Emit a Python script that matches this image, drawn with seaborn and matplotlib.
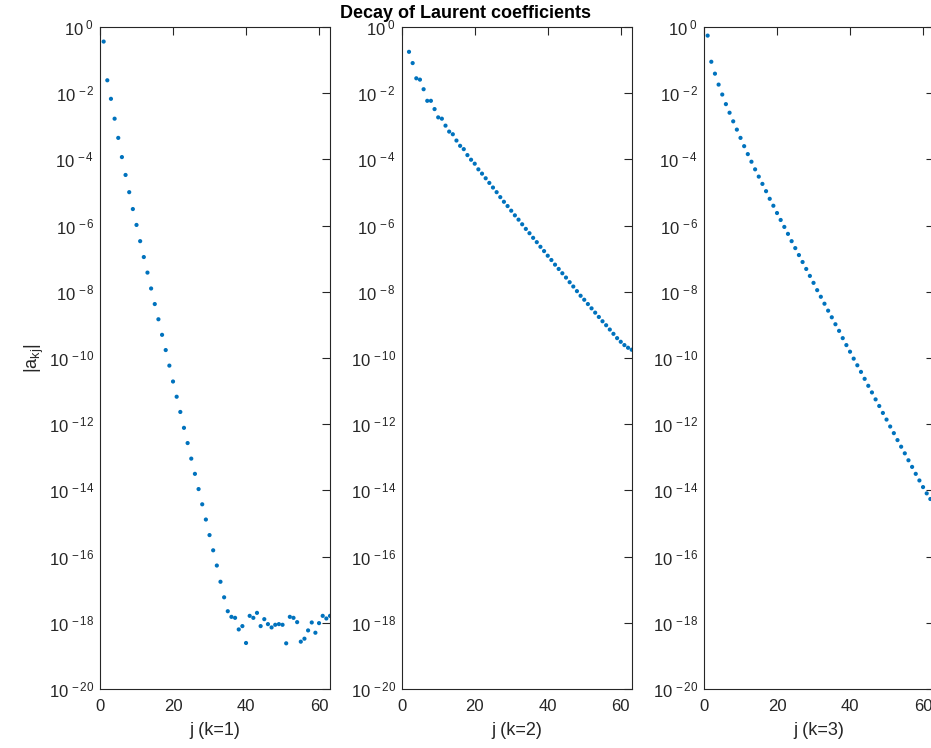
import numpy as np
import pandas as pd
import matplotlib
matplotlib.use("Agg")
import matplotlib.pyplot as plt
import matplotlib.ticker as mticker
import seaborn as sns

# ---- data (log10 of |a_kj|) ----
j1 = list(range(1, 64))
log_a1 = [-0.44, -1.61, -2.17, -2.77, -3.35, -3.93, -4.47, -4.99, -5.50, -5.98,
          -6.47, -6.95, -7.42, -7.90, -8.37, -8.83, -9.30, -9.76, -10.23, -10.71,
          -11.17, -11.63, -12.11, -12.57, -13.04, -13.50, -13.96, -14.42, -14.88, -15.35,
          -15.81, -16.27, -16.76, -17.23, -17.65, -17.82, -17.85, -18.20, -18.10, -18.61,
          -17.79, -17.85, -17.70, -18.10, -17.89, -18.04, -18.14, -18.06, -18.04, -18.06,
          -18.62, -17.82, -17.85, -17.98, -18.57, -18.48, -18.23, -17.99, -18.30, -18.01,
          -17.79, -17.87, -17.79]

j2 = list(range(2, 64))
log_a2 = [-0.75, -1.09, -1.55, -1.59, -1.88, -2.23, -2.23, -2.48, -2.73, -2.77,
          -2.98, -3.16, -3.24, -3.43, -3.59, -3.69, -3.87, -4.01, -4.13, -4.30,
          -4.43, -4.57, -4.71, -4.85, -4.99, -5.14, -5.28, -5.41, -5.55, -5.69,
          -5.82, -5.96, -6.10, -6.23, -6.37, -6.50, -6.64, -6.77, -6.91, -7.04,
          -7.18, -7.31, -7.44, -7.57, -7.71, -7.84, -7.98, -8.12, -8.24, -8.37,
          -8.50, -8.63, -8.76, -8.89, -9.01, -9.14, -9.27, -9.40, -9.51, -9.61,
          -9.69, -9.75]

j3 = list(range(1, 63))
log_a3 = [-0.26, -1.05, -1.41, -1.74, -2.04, -2.33, -2.59, -2.85, -3.10, -3.35,
          -3.60, -3.84, -4.07, -4.30, -4.52, -4.74, -4.96, -5.19, -5.40, -5.62,
          -5.83, -6.04, -6.25, -6.47, -6.68, -6.89, -7.10, -7.31, -7.52, -7.73,
          -7.95, -8.15, -8.36, -8.57, -8.77, -8.98, -9.18, -9.40, -9.61, -9.81,
          -10.02, -10.22, -10.42, -10.63, -10.84, -11.04, -11.25, -11.45, -11.66, -11.86,
          -12.07, -12.27, -12.48, -12.68, -12.88, -13.09, -13.29, -13.50, -13.70, -13.90,
          -14.09, -14.26]

xlabels = ["j (k=1)", "j (k=2)", "j (k=3)"]
title = "Decay of Laurent coefficients"
ylabel = r"$|\mathrm{a}_{\mathrm{kj}}|$"
xticks = [0, 20, 40, 60]
yticks_exp = list(range(-20, 1, 2))

# ---- style ----
sns.set_style("white")
plt.rcParams["font.family"] = ["Liberation Sans", "DejaVu Sans"]
plt.rcParams["mathtext.fontset"] = "custom"
plt.rcParams["mathtext.rm"] = "Liberation Sans"
plt.rcParams["mathtext.it"] = "Liberation Sans:italic"
plt.rcParams["mathtext.bf"] = "Liberation Sans:bold"

COLOR = "#0072BD"
AX_COLOR = "#262626"
W, H = 931, 748
fig = plt.figure(figsize=(W / 100, H / 100), dpi=100)

top_px, bot_px = 27, 689
lefts = [100, 401.7, 704]
width_px = 230

datasets = [(j1, log_a1), (j2, log_a2), (j3, log_a3)]
for i, ((jj, la), left) in enumerate(zip(datasets, lefts)):
    ax = fig.add_axes([left / W, 1 - bot_px / H, width_px / W, (bot_px - top_px) / H])
    df = pd.DataFrame({"j": jj, "a": 10.0 ** np.array(la)})
    sns.scatterplot(data=df, x="j", y="a", ax=ax, color=COLOR, s=9,
                    linewidth=0, edgecolor="none", clip_on=True)
    ax.set_yscale("log")
    ax.set_xlim(0, 63)
    ax.set_ylim(1e-20, 1e0)
    ax.set_xticks(xticks)
    ax.set_xticklabels([str(t) for t in xticks])
    ax.set_yticks([10.0 ** e for e in yticks_exp])
    ax.set_yticklabels([r"$10^{\ %d}$" % e if e == 0 else r"$10^{\,%d}$" % e for e in yticks_exp])
    ax.yaxis.set_minor_locator(mticker.NullLocator())
    ax.tick_params(axis="both", which="major", direction="in", length=6, width=0.8,
                   colors=AX_COLOR, labelsize=12, top=True, right=True)
    ax.tick_params(axis="x", pad=7)
    ax.tick_params(axis="y", pad=4)
    for sp in ax.spines.values():
        sp.set_color(AX_COLOR)
        sp.set_linewidth(0.8)
        sp.set_visible(True)
    ax.set_xlabel(xlabels[i], fontsize=13, color=AX_COLOR, labelpad=6)
    if i == 0:
        ax.set_ylabel(ylabel, fontsize=13, color=AX_COLOR, labelpad=2)
    else:
        ax.set_ylabel("")
    ax.grid(False)

fig.text(465 / W, 1 - 13 / H, title, ha="center", va="center",
         fontsize=13, fontweight="bold", color="black")

fig.savefig("out.png", dpi=100)
